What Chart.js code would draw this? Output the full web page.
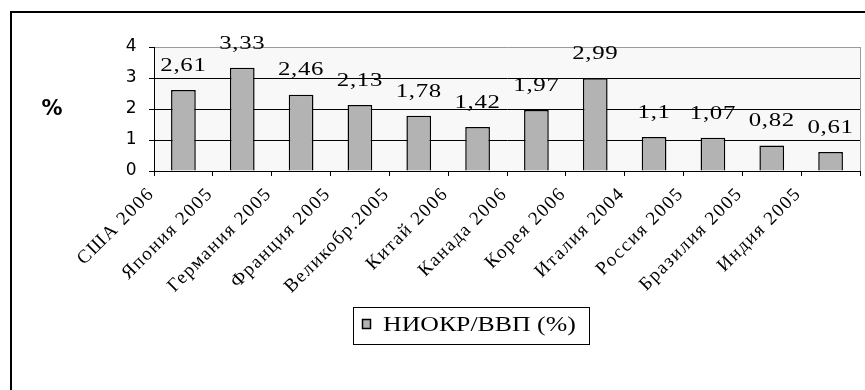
<!DOCTYPE html>
<html>
<head>
<meta charset="utf-8">
<script src="https://cdn.jsdelivr.net/npm/chart.js@4.4.1/dist/chart.umd.min.js"></script>
<style>
  html, body { margin: 0; padding: 0; background: #ffffff; }
  canvas { display: block; }
</style>
</head>
<body>
<canvas id="chart" width="865" height="390"></canvas>
<script>
// R&D spending as a share of GDP, by country and year
const categories = ['США 2006', 'Япония 2005', 'Германия 2005', 'Франция 2005', 'Великобр.2005', 'Китай 2006',
                    'Канада 2006', 'Корея 2006', 'Италия 2004', 'Россия 2005', 'Бразилия 2005', 'Индия 2005'];
const values = [2.61, 3.33, 2.46, 2.13, 1.78, 1.42, 1.97, 2.99, 1.1, 1.07, 0.82, 0.61];
const seriesName = 'НИОКР/ВВП (%)';
const axisUnit = '%';

const BAR_FILL = '#b3b3b3';
const SERIF = '"Liberation Serif", "Times New Roman", serif';
const SANS = '"DejaVu Sans", Verdana, sans-serif';

const fmt = v => String(v).replace('.', ',');

// Text drawn slightly widened, the way the labels are set in this chart
function wideText(ctx, text, x, y, stretch, align) {
  ctx.save();
  ctx.translate(x, y);
  ctx.scale(stretch, 1);
  ctx.textAlign = align;
  ctx.fillText(text, 0, 0);
  ctx.restore();
}

// Plot-area fill, grey frame on the top/right, and the outer black frame
const framePlugin = {
  id: 'frame',
  beforeDraw(chart) {
    const { ctx, chartArea: a } = chart;
    ctx.save();
    ctx.fillStyle = '#f8f8f8';
    ctx.fillRect(a.left, a.top, a.right - a.left, a.bottom - a.top);
    ctx.strokeStyle = '#9a9a9a';
    ctx.lineWidth = 1;
    ctx.beginPath();
    ctx.moveTo(a.right + 0.5, a.top);
    ctx.lineTo(a.right + 0.5, a.bottom);
    ctx.stroke();
    ctx.strokeStyle = '#000';
    ctx.lineWidth = 2;
    ctx.strokeRect(11, 12, 1200, 1200);
    ctx.restore();
    ctx.letterSpacing = '1.5px';
  }
};

// Value labels above bars, the unit label and the boxed legend
const annotatePlugin = {
  id: 'annotate',
  afterDraw(chart) {
    const { ctx } = chart;
    const meta = chart.getDatasetMeta(0);
    const data = chart.data.datasets[0].data;
    ctx.save();
    ctx.letterSpacing = '0.5px';
    ctx.fillStyle = '#000';
    ctx.font = '18px ' + SERIF;
    ctx.textBaseline = 'middle';
    meta.data.forEach((bar, i) => {
      wideText(ctx, fmt(data[i]), bar.x, bar.y - 24, 1.38, 'center');
    });

    ctx.letterSpacing = '0px';
    ctx.font = 'bold 21px ' + SANS;
    ctx.textAlign = 'center';
    ctx.fillText(axisUnit, 52, 110);

    // legend
    const ds = chart.data.datasets[0];
    ctx.fillStyle = '#fff';
    ctx.fillRect(353.5, 307.5, 236, 37);
    ctx.strokeStyle = '#000';
    ctx.lineWidth = 1;
    ctx.strokeRect(353.5, 307.5, 236, 37);
    ctx.fillStyle = ds.backgroundColor;
    ctx.fillRect(362.5, 319.5, 8, 9);
    ctx.lineWidth = 1.5;
    ctx.strokeRect(362.5, 319.5, 8, 9);
    ctx.fillStyle = '#000';
    ctx.font = '20px ' + SERIF;
    ctx.textBaseline = 'alphabetic';
    wideText(ctx, ds.label, 383, 331, 1.29, 'left');
    ctx.restore();
  }
};

new Chart(document.getElementById('chart'), {
  type: 'bar',
  data: {
    labels: categories,
    datasets: [{
      label: seriesName,
      data: values,
      backgroundColor: BAR_FILL,
      borderColor: '#000',
      borderWidth: 1.5,
      barPercentage: 0.42,
      categoryPercentage: 1
    }]
  },
  options: {
    responsive: false,
    animation: false,
    devicePixelRatio: 1,
    layout: { padding: { left: 0, top: 47, right: 5, bottom: 89 } },
    plugins: {
      legend: { display: false },
      tooltip: { enabled: false }
    },
    scales: {
      x: {
        afterFit(scale) { scale.height = 130; },
        grid: { offset: true, drawOnChartArea: false, drawTicks: true, tickLength: 5, color: '#000', lineWidth: 1 },
        border: { display: true, color: '#000', width: 1 },
        ticks: {
          autoSkip: false,
          minRotation: 45,
          maxRotation: 45,
          padding: 7,
          labelOffset: -32,
          color: '#000',
          font: { family: SERIF, size: 19 }
        }
      },
      y: {
        min: 0,
        max: 4,
        afterFit(scale) { scale.width = 154; },
        grid: {
          drawTicks: true,
          tickLength: 5,
          tickColor: '#000',
          color: ctx => ctx.tick && ctx.tick.value === 4 ? '#9a9a9a' : '#000',
          lineWidth: 1
        },
        border: { display: true, color: '#000', width: 1 },
        ticks: {
          stepSize: 1,
          padding: 11,
          color: '#000',
          font: { family: SANS, size: 17 }
        }
      }
    }
  },
  plugins: [framePlugin, annotatePlugin]
});
</script>
</body>
</html>
